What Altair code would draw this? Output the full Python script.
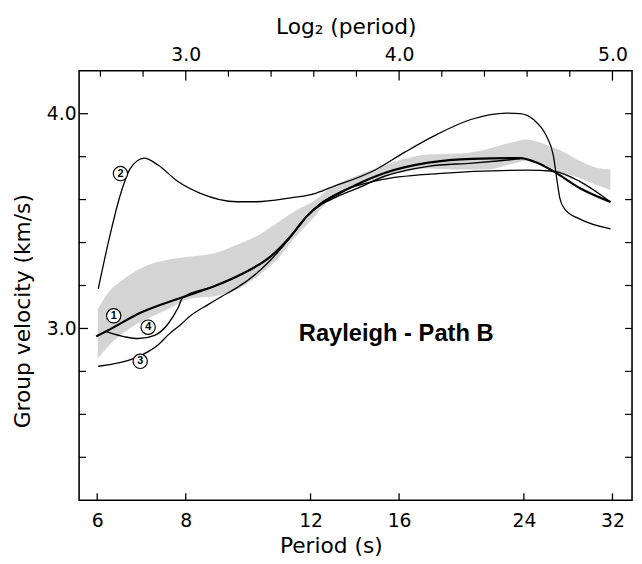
import altair as alt
import pandas as pd

FONT = "DejaVu Sans"

# ---------------- data ----------------
# shaded band (upper / lower edge)
band_P  = [6.01, 6.23, 6.54, 7.01, 7.55, 8.13, 8.78, 9.45, 10.08, 10.75, 11.46, 12.22, 12.74,
           13.89, 14.96, 16.31, 17.56, 19.52, 21.29, 22.99, 24.20, 25.56, 27.00, 28.79, 30.30, 31.79]
band_hi = [3.09, 3.17, 3.23, 3.29, 3.32, 3.335, 3.35, 3.39, 3.43, 3.49, 3.55, 3.60, 3.65,
           3.71, 3.75, 3.79, 3.81, 3.815, 3.835, 3.865, 3.88, 3.86, 3.83, 3.78, 3.75, 3.74]
band_lo = [2.86, 2.92, 2.98, 3.04, 3.09, 3.14, 3.15, 3.18, 3.24, 3.32, 3.43, 3.53, 3.60,
           3.66, 3.70, 3.73, 3.745, 3.74, 3.74, 3.765, 3.78, 3.76, 3.73, 3.70, 3.67, 3.645]

# curve 1 (thick)
c1_P = [5.98, 6.19, 6.93, 7.88, 8.77, 9.66, 10.52, 11.22, 11.84, 12.4, 13.1, 13.9, 15.3,
        17.6, 20.3, 23.7, 24.9, 26.5, 28.8, 31.8]
c1_v = [2.963, 2.988, 3.075, 3.143, 3.196, 3.258, 3.333, 3.425, 3.52, 3.58, 3.625, 3.668, 3.725,
        3.772, 3.79, 3.793, 3.775, 3.729, 3.653, 3.589]
# curve 2
c2_P = [6.02, 6.23, 6.47, 6.68, 6.99, 7.31, 7.80, 8.39, 9.45, 10.08, 11.2, 12.2, 12.74, 14.8,
        16.3, 17.96, 20.2, 22.7, 23.7, 24.76, 25.8, 26.4, 26.74, 26.97, 27.4, 28.76, 31.8]
c2_v = [3.184, 3.41, 3.624, 3.744, 3.793, 3.761, 3.684, 3.629, 3.59, 3.59, 3.607, 3.629, 3.653,
        3.738, 3.821, 3.898, 3.973, 4.003, 4.0, 3.973, 3.898, 3.807, 3.684, 3.607, 3.556, 3.51, 3.464]
# curve 3
c3_P = [6.02, 6.78, 7.08, 7.31, 7.55, 7.88, 8.13, 8.59, 9.0, 9.45, 10.08, 10.75, 11.34, 11.96,
        12.5, 13.2, 14.96, 18.15, 24.2, 26.4, 28.8, 31.8]
c3_v = [2.824, 2.862, 2.892, 2.923, 2.969, 3.02, 3.06, 3.11, 3.15, 3.19, 3.258, 3.349, 3.44,
        3.535, 3.59, 3.635, 3.69, 3.721, 3.737, 3.732, 3.684, 3.589]
# curve 4
c4_P = [6.19, 6.57, 6.86, 7.23, 7.55, 7.80, 7.92, 8.77, 9.66, 10.52, 11.22, 11.84, 12.4, 13.1,
        13.9, 15.3, 17.6, 20.3, 22.0, 23.7]
c4_v = [2.984, 2.961, 2.953, 2.968, 3.021, 3.095, 3.143, 3.196, 3.258, 3.333, 3.425, 3.52, 3.575,
        3.615, 3.65, 3.71, 3.755, 3.77, 3.78, 3.79]

# circled curve numbers
ann_P = [6.33, 6.47, 6.90, 7.08]
ann_v = [3.059, 3.721, 2.847, 3.006]
ann_txt = ["1", "2", "3", "4"]

# annotation text
note_P = [15.85]
note_v = [2.975]
note_txt = ["Rayleigh - Path B"]

# axes
bottom_ticks = [6, 8, 12, 16, 24, 32]
top_major_log2 = [3.0, 4.0, 5.0]
top_minor_log2 = [2.6, 2.8, 3.2, 3.4, 3.6, 3.8, 4.2, 4.4, 4.6, 4.8]
y_major = [3.0, 4.0]
y_minor = [2.4, 2.6, 2.8, 3.2, 3.4, 3.6, 3.8]

# ---------------- chart ----------------
W, H = 560, 435
X = alt.Scale(type="log", base=2, domain=[5.657, 34.1], nice=False)
Y = alt.Scale(domain=[2.2, 4.2], nice=False)

band = alt.Chart(pd.DataFrame({"P": band_P, "hi": band_hi, "lo": band_lo})).mark_area(
    color="#d2d2d2", opacity=0.95, interpolate="monotone"
).encode(
    x=alt.X("P:Q", scale=X, axis=alt.Axis(
        values=bottom_ticks, ticks=False, domain=False, grid=False,
        labelFont=FONT, labelFontSize=19, labelPadding=12, labelColor="black",
        title="Period (s)", titleFont=FONT, titleFontSize=22, titleFontWeight="normal",
        titleColor="black", titleX=255, titleY=46, titleAlign="center", titleBaseline="middle")),
    y=alt.Y("hi:Q", scale=Y, axis=alt.Axis(
        orient="left", values=y_major, format=".1f", ticks=False, domain=False, grid=False,
        labelFont=FONT, labelFontSize=19, labelPadding=3, labelColor="black",
        title="Group velocity (km/s)", titleFont=FONT, titleFontSize=22, titleFontWeight="normal",
        titleColor="black", titleX=-57, titleY=243, titleAngle=270,
        titleAlign="center", titleBaseline="middle")),
    y2="lo:Q",
)


def curve(P, v, width):
    return alt.Chart(pd.DataFrame({"P": P, "v": v})).mark_line(
        color="black", strokeWidth=width, interpolate="monotone"
    ).encode(
        x=alt.X("P:Q", scale=X, axis=None),
        y=alt.Y("v:Q", scale=Y, axis=None),
    )


lines = [curve(c2_P, c2_v, 1.3), curve(c3_P, c3_v, 1.3), curve(c4_P, c4_v, 1.4), curve(c1_P, c1_v, 2.2)]

ann_df = pd.DataFrame({"P": ann_P, "v": ann_v, "t": ann_txt})
circles = alt.Chart(ann_df).mark_point(
    shape="circle", size=210, filled=True, fill="white", stroke="black", strokeWidth=1.2, opacity=1
).encode(x=alt.X("P:Q", scale=X, axis=None), y=alt.Y("v:Q", scale=Y, axis=None))
digits = alt.Chart(ann_df).mark_text(
    font="Liberation Sans", fontSize=11, fontWeight="bold", color="black", baseline="middle", align="center"
).encode(x=alt.X("P:Q", scale=X, axis=None), y=alt.Y("v:Q", scale=Y, axis=None), text="t:N")

note = alt.Chart(pd.DataFrame({"P": note_P, "v": note_v, "t": note_txt})).mark_text(
    font="Liberation Sans", fontSize=24, fontWeight="bold", color="black", baseline="middle", align="center"
).encode(x=alt.X("P:Q", scale=X, axis=None), y=alt.Y("v:Q", scale=Y, axis=None), text="t:N")

# inward tick marks
bt = alt.Chart(pd.DataFrame({"P": bottom_ticks})).mark_rule(color="black", strokeWidth=1.3).encode(
    x=alt.X("P:Q", scale=X, axis=None), y=alt.value(H), y2=alt.value(H - 7))

top_major = alt.Chart(pd.DataFrame({"L": top_major_log2})).transform_calculate(
    P="pow(2, datum.L)"
).mark_rule(color="black", strokeWidth=1.3).encode(
    x=alt.X("P:Q", scale=X, axis=alt.Axis(
        orient="top", values=[8, 16, 32], labelExpr="format(log(datum.value)/LN2, '.1f')",
        ticks=False, domain=False, grid=False,
        labelFont=FONT, labelFontSize=19, labelPadding=6, labelColor="black",
        title="Log₂ (period)", titleFont=FONT, titleFontSize=22, titleFontWeight="normal",
        titleColor="black", titleX=270, titleY=-38, titleAlign="center", titleBaseline="alphabetic")),
    y=alt.value(0), y2=alt.value(10))

top_minor = alt.Chart(pd.DataFrame({"L": top_minor_log2})).transform_calculate(
    P="pow(2, datum.L)"
).mark_rule(color="black", strokeWidth=1.2).encode(
    x=alt.X("P:Q", scale=X, axis=None), y=alt.value(0), y2=alt.value(6))

lmaj = alt.Chart(pd.DataFrame({"v": y_major})).mark_rule(color="black", strokeWidth=1.3).encode(
    y=alt.Y("v:Q", scale=Y, axis=None), x=alt.value(0), x2=alt.value(9))
lmin = alt.Chart(pd.DataFrame({"v": y_minor})).mark_rule(color="black", strokeWidth=1.2).encode(
    y=alt.Y("v:Q", scale=Y, axis=None), x=alt.value(0), x2=alt.value(7))
rall = alt.Chart(pd.DataFrame({"v": y_major + y_minor})).mark_rule(color="black", strokeWidth=1.2).encode(
    y=alt.Y("v:Q", scale=Y, axis=None), x=alt.value(W), x2=alt.value(W - 7))

chart = alt.layer(
    band, *lines, circles, digits, note, bt, top_major, top_minor, lmaj, lmin, rall
).resolve_axis(x="independent", y="independent").properties(
    width=W, height=H,
    autosize=alt.AutoSizeParams(type="none"),
    padding={"left": 72, "top": 60, "right": 2, "bottom": 61},
    background="white",
).configure_view(stroke="black", strokeWidth=1.6)

chart.save("out.html", embed_options={"renderer": "svg", "actions": False})
